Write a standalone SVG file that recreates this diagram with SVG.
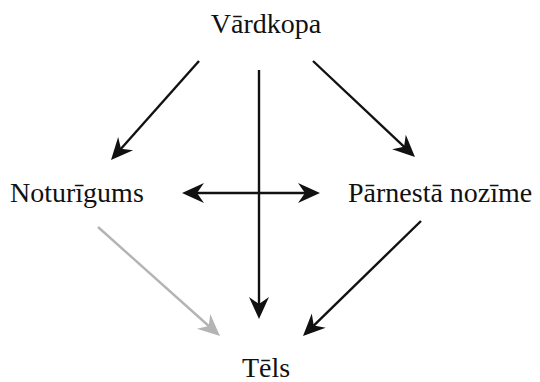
<svg xmlns="http://www.w3.org/2000/svg" width="540" height="382" viewBox="0 0 540 382">
<style>
.ln{stroke:#111;stroke-width:2.4;fill:none;}
.gr{stroke:#b4b4b4;stroke-width:2.4;fill:none;}
</style>
<defs>
<marker id="ah" markerUnits="userSpaceOnUse" viewBox="-20 -12 30 24" refX="0" refY="0" markerWidth="30" markerHeight="24" orient="auto-start-reverse" overflow="visible">
<path d="M6,0 L-16,-10 L-9,0 L-16,10 Z" fill="#111"/>
</marker>
<marker id="ahg" markerUnits="userSpaceOnUse" viewBox="-20 -12 30 24" refX="0" refY="0" markerWidth="30" markerHeight="24" orient="auto" overflow="visible">
<path d="M6,0 L-16,-10 L-9,0 L-16,10 Z" fill="#b4b4b4"/>
</marker>
</defs>
<g font-family="Liberation Serif" font-size="28" fill="#111">
<g id="n-vardkopa"><text x="266" y="33" text-anchor="middle">Vārdkopa</text></g>
<g id="n-noturigums"><text x="10" y="202">Noturīgums</text></g>
<g id="n-parnesta"><text x="348" y="202">Pārnestā nozīme</text></g>
<g id="n-tels"><text x="266" y="377" text-anchor="middle">Tēls</text></g>
</g>
<g id="connectors">
<line class="ln" x1="199" y1="61" x2="115" y2="155.5" marker-end="url(#ah)"/>
<line class="ln" x1="259" y1="70" x2="259" y2="313" marker-end="url(#ah)"/>
<line class="ln" x1="313" y1="61" x2="410.6" y2="152.9" marker-end="url(#ah)"/>
<line class="ln" x1="188" y1="193" x2="314" y2="193" marker-start="url(#ah)" marker-end="url(#ah)"/>
<line class="gr" x1="98" y1="227" x2="215.5" y2="332" marker-end="url(#ahg)"/>
<line class="ln" x1="421" y1="221" x2="307.3" y2="331.8" marker-end="url(#ah)"/>
</g>
</svg>
